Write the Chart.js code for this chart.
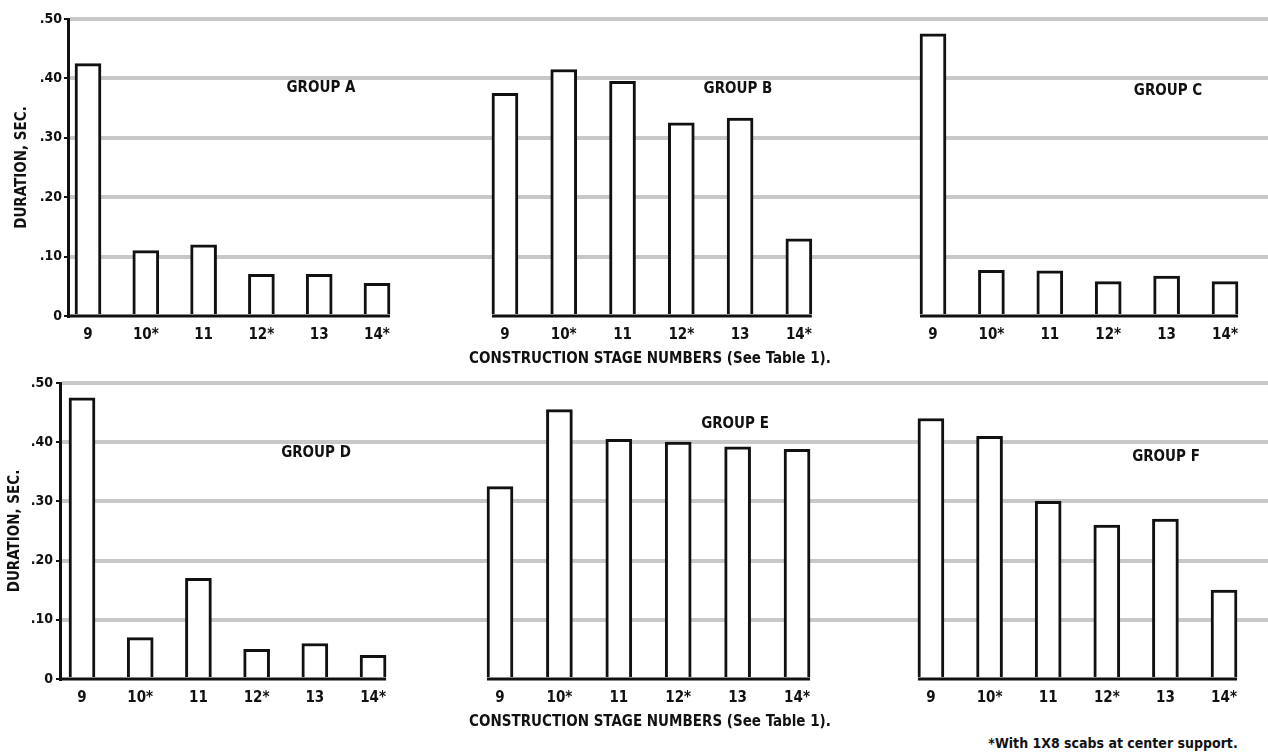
<!DOCTYPE html>
<html>
<head>
<meta charset="utf-8">
<script src="https://cdn.jsdelivr.net/npm/chart.js@4.4.1/dist/chart.umd.min.js"></script>
<style>
  body { margin: 0; background: #fff; width: 1268px; height: 754px; position: relative; overflow: hidden;
         font-family: 'DejaVu Sans Condensed', 'DejaVu Sans', sans-serif; color: #111; }
  canvas { position: absolute; }
  .lbl { position: absolute; font-weight: bold; font-size: 15px; white-space: nowrap; transform: translate(-50%, -50%); }
</style>
</head>
<body>
<canvas id="cA" width="440" height="368" style="left:0;top:0"></canvas>
<canvas id="cB" width="420" height="368" style="left:440px;top:0"></canvas>
<canvas id="cC" width="408" height="368" style="left:860px;top:0"></canvas>
<canvas id="cD" width="440" height="368" style="left:0;top:363px"></canvas>
<canvas id="cE" width="420" height="368" style="left:440px;top:363px"></canvas>
<canvas id="cF" width="408" height="368" style="left:860px;top:363px"></canvas>

<div class="lbl" style="left:321px;top:87px">GROUP A</div>
<div class="lbl" style="left:738px;top:88px">GROUP B</div>
<div class="lbl" style="left:1168px;top:90px">GROUP C</div>
<div class="lbl" style="left:316px;top:452px">GROUP D</div>
<div class="lbl" style="left:735px;top:423px">GROUP E</div>
<div class="lbl" style="left:1166px;top:456px">GROUP F</div>
<div class="lbl" style="left:1113px;top:743px;font-size:14px">*With 1X8 scabs at center support.</div>

<script>
// construction stages and durations (sec.)
const stages = ['9', '10*', '11', '12*', '13', '14*'];
const yTickValues = [0, 0.1, 0.2, 0.3, 0.4, 0.5];
const yTickLabels = ['0', '.10', '.20', '.30', '.40', '.50'];

const groupA = [0.425, 0.11, 0.12, 0.07, 0.07, 0.055];
const groupB = [0.375, 0.415, 0.395, 0.325, 0.333, 0.13];
const groupC = [0.475, 0.077, 0.076, 0.058, 0.067, 0.058];
const groupD = [0.475, 0.07, 0.17, 0.05, 0.06, 0.04];
const groupE = [0.325, 0.455, 0.405, 0.40, 0.392, 0.388];
const groupF = [0.44, 0.41, 0.30, 0.26, 0.27, 0.15];

const xTitle = 'CONSTRUCTION STAGE NUMBERS (See Table 1).';
const ink = '#111';
const gridGrey = '#c8c8c8';
const fontFamily = "'DejaVu Sans Condensed', 'DejaVu Sans', sans-serif";

// black base line under each group of bars
const baseline = {
  id: 'baseline',
  afterDatasetsDraw(chart, args, opts) {
    const bars = chart.getDatasetMeta(0).data;
    const first = bars[0], last = bars[bars.length - 1];
    const y = chart.scales.y.getPixelForValue(0);
    const x0 = opts.fromAxis ? chart.chartArea.left : first.x - first.width / 2;
    const x1 = last.x + last.width / 2;
    const ctx = chart.ctx;
    ctx.save();
    ctx.strokeStyle = ink;
    ctx.lineWidth = 3;
    ctx.beginPath();
    ctx.moveTo(x0, y);
    ctx.lineTo(x1, y);
    ctx.stroke();
    ctx.restore();
  }
};

function makePanel(p) {
  const hasAxis = p.axis > 0;
  new Chart(document.getElementById(p.id), {
    type: 'bar',
    data: {
      datasets: [{
        data: p.values.map((v, i) => ({ x: i, y: v })),
        backgroundColor: '#fff',
        borderColor: ink,
        borderWidth: 3,
        barThickness: 26
      }]
    },
    options: {
      responsive: false,
      animation: false,
      layout: { padding: { top: p.padTop, left: 0, right: 0, bottom: 0 } },
      plugins: {
        legend: { display: false },
        tooltip: { enabled: false },
        baseline: { fromAxis: hasAxis }
      },
      scales: {
        x: {
          type: 'linear',
          offset: false,
          min: p.min,
          max: p.max,
          grid: { display: false, drawTicks: false, offset: false },
          border: { display: false },
          afterBuildTicks: s => { s.ticks = stages.map((_, i) => ({ value: i })); },
          afterFit: s => { s.height = 52; },
          ticks: {
            callback: v => stages[v],
            padding: 10,
            color: ink,
            maxRotation: 0,
            autoSkip: false,
            font: { family: fontFamily, size: 15, weight: 'bold' }
          },
          title: {
            display: p.xTitle,
            text: xTitle,
            color: ink,
            padding: { top: 0, bottom: 0 },
            font: { family: fontFamily, size: 15, weight: 'bold' }
          }
        },
        y: {
          min: 0,
          max: 0.5,
          afterBuildTicks: s => { s.ticks = yTickValues.map(v => ({ value: v })); },
          afterFit: s => { s.width = p.axis; },
          ticks: {
            display: hasAxis,
            callback: (v, i) => yTickLabels[i],
            padding: p.tickPad,
            color: ink,
            font: { family: fontFamily, size: 14, weight: 'bold' }
          },
          grid: {
            color: c => (c.tick && c.tick.value === 0) ? 'rgba(0,0,0,0)' : gridGrey,
            lineWidth: 4,
            drawTicks: hasAxis,
            tickLength: 4,
            tickColor: ink,
            tickWidth: 2
          },
          border: { display: hasAxis, color: ink, width: 3 },
          title: {
            display: hasAxis,
            text: 'DURATION, SEC.',
            color: ink,
            padding: { top: p.titlePad, bottom: 0 },
            font: { family: fontFamily, size: 15, weight: 'bold' }
          }
        }
      }
    },
    plugins: [baseline]
  });
}

const panels = [
  { id: 'cA', values: groupA, axis: 68, tickPad: 2, titlePad: 13, padTop: 19, min: -0.346, max: 6.09, xTitle: false },
  { id: 'cB', values: groupB, axis: 0, tickPad: 0, titlePad: 0, padTop: 19, min: -1.105, max: 6.04, xTitle: true },
  { id: 'cC', values: groupC, axis: 0, tickPad: 0, titlePad: 0, padTop: 19, min: -1.25, max: 5.736, xTitle: false },
  { id: 'cD', values: groupD, axis: 60, tickPad: 3, titlePad: 6, padTop: 20, min: -0.378, max: 6.15, xTitle: false },
  { id: 'cE', values: groupE, axis: 0, tickPad: 0, titlePad: 0, padTop: 20, min: -1.01, max: 6.06, xTitle: true },
  { id: 'cF', values: groupF, axis: 0, tickPad: 0, titlePad: 0, padTop: 20, min: -1.21, max: 5.75, xTitle: false }
];

panels.forEach(makePanel);
</script>
</body>
</html>
